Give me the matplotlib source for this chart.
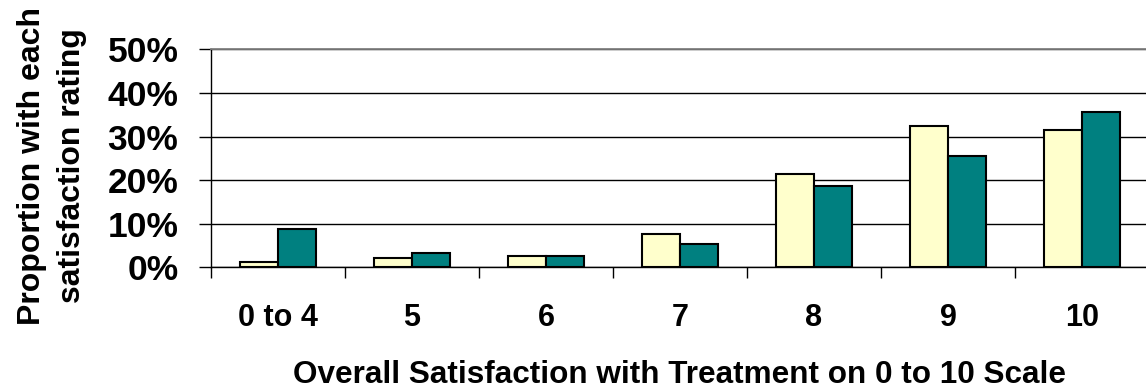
import numpy as np
import matplotlib
matplotlib.use("Agg")
import matplotlib.pyplot as plt
from matplotlib.ticker import FixedLocator, PercentFormatter

# Share of respondents at each overall satisfaction rating, two groups
categories = ["0 to 4", "5", "6", "7", "8", "9", "10"]
group_a = [1.3, 2.2, 2.7, 7.7, 21.5, 32.4, 31.6]
group_b = [8.7, 3.2, 2.7, 5.4, 18.7, 25.6, 35.7]

plt.rcParams['font.family'] = ['Liberation Sans', 'DejaVu Sans']
plt.rcParams['font.weight'] = 'bold'

fig = plt.figure(figsize=(11.46, 3.9), dpi=100)
ax = fig.add_axes([211 / 1146, 122.7 / 390, 938 / 1146, 218 / 390])

x = np.arange(len(categories))
w = 0.284
ax.bar(x - w / 2, group_a, width=w, color='#FFFFCC', edgecolor='black', linewidth=1.5, zorder=3)
ax.bar(x + w / 2, group_b, width=w, color='#008080', edgecolor='black', linewidth=1.5, zorder=3)

ax.set_xlim(-0.5, len(categories) - 0.5)
ax.set_ylim(0, 50)
ax.set_yticks([0, 10, 20, 30, 40, 50])
ax.yaxis.set_major_formatter(PercentFormatter(decimals=0))
ax.yaxis.grid(True, color='black', linewidth=1.0, zorder=0)
ax.tick_params(axis='y', direction='out', length=8.5, width=1.0, pad=15, labelsize=25.5)

# category labels centred, tick marks on the boundaries between categories
ax.set_xticks(x)
ax.set_xticklabels(categories)
ax.tick_params(axis='x', which='major', length=0, pad=26, labelsize=22)
ax.xaxis.set_minor_locator(FixedLocator(np.arange(-0.5, len(categories), 1.0)))
ax.tick_params(axis='x', which='minor', direction='out', length=8, width=1.0)

for side in ['left', 'bottom']:
    ax.spines[side].set_linewidth(1.0)
ax.spines['top'].set_color('#808080')
ax.spines['top'].set_linewidth(1.3)
ax.spines['right'].set_visible(False)

ax.set_xlabel("Overall Satisfaction with Treatment on 0 to 10 Scale", fontsize=22.7, fontweight='bold', labelpad=19)
fig.text(52 / 1146, 1 - 166 / 390, "Proportion with each\nsatisfaction rating", rotation=90,
         ha='center', va='center', fontsize=23, fontweight='bold', linespacing=1.4)

fig.savefig("out.png", dpi=100)
